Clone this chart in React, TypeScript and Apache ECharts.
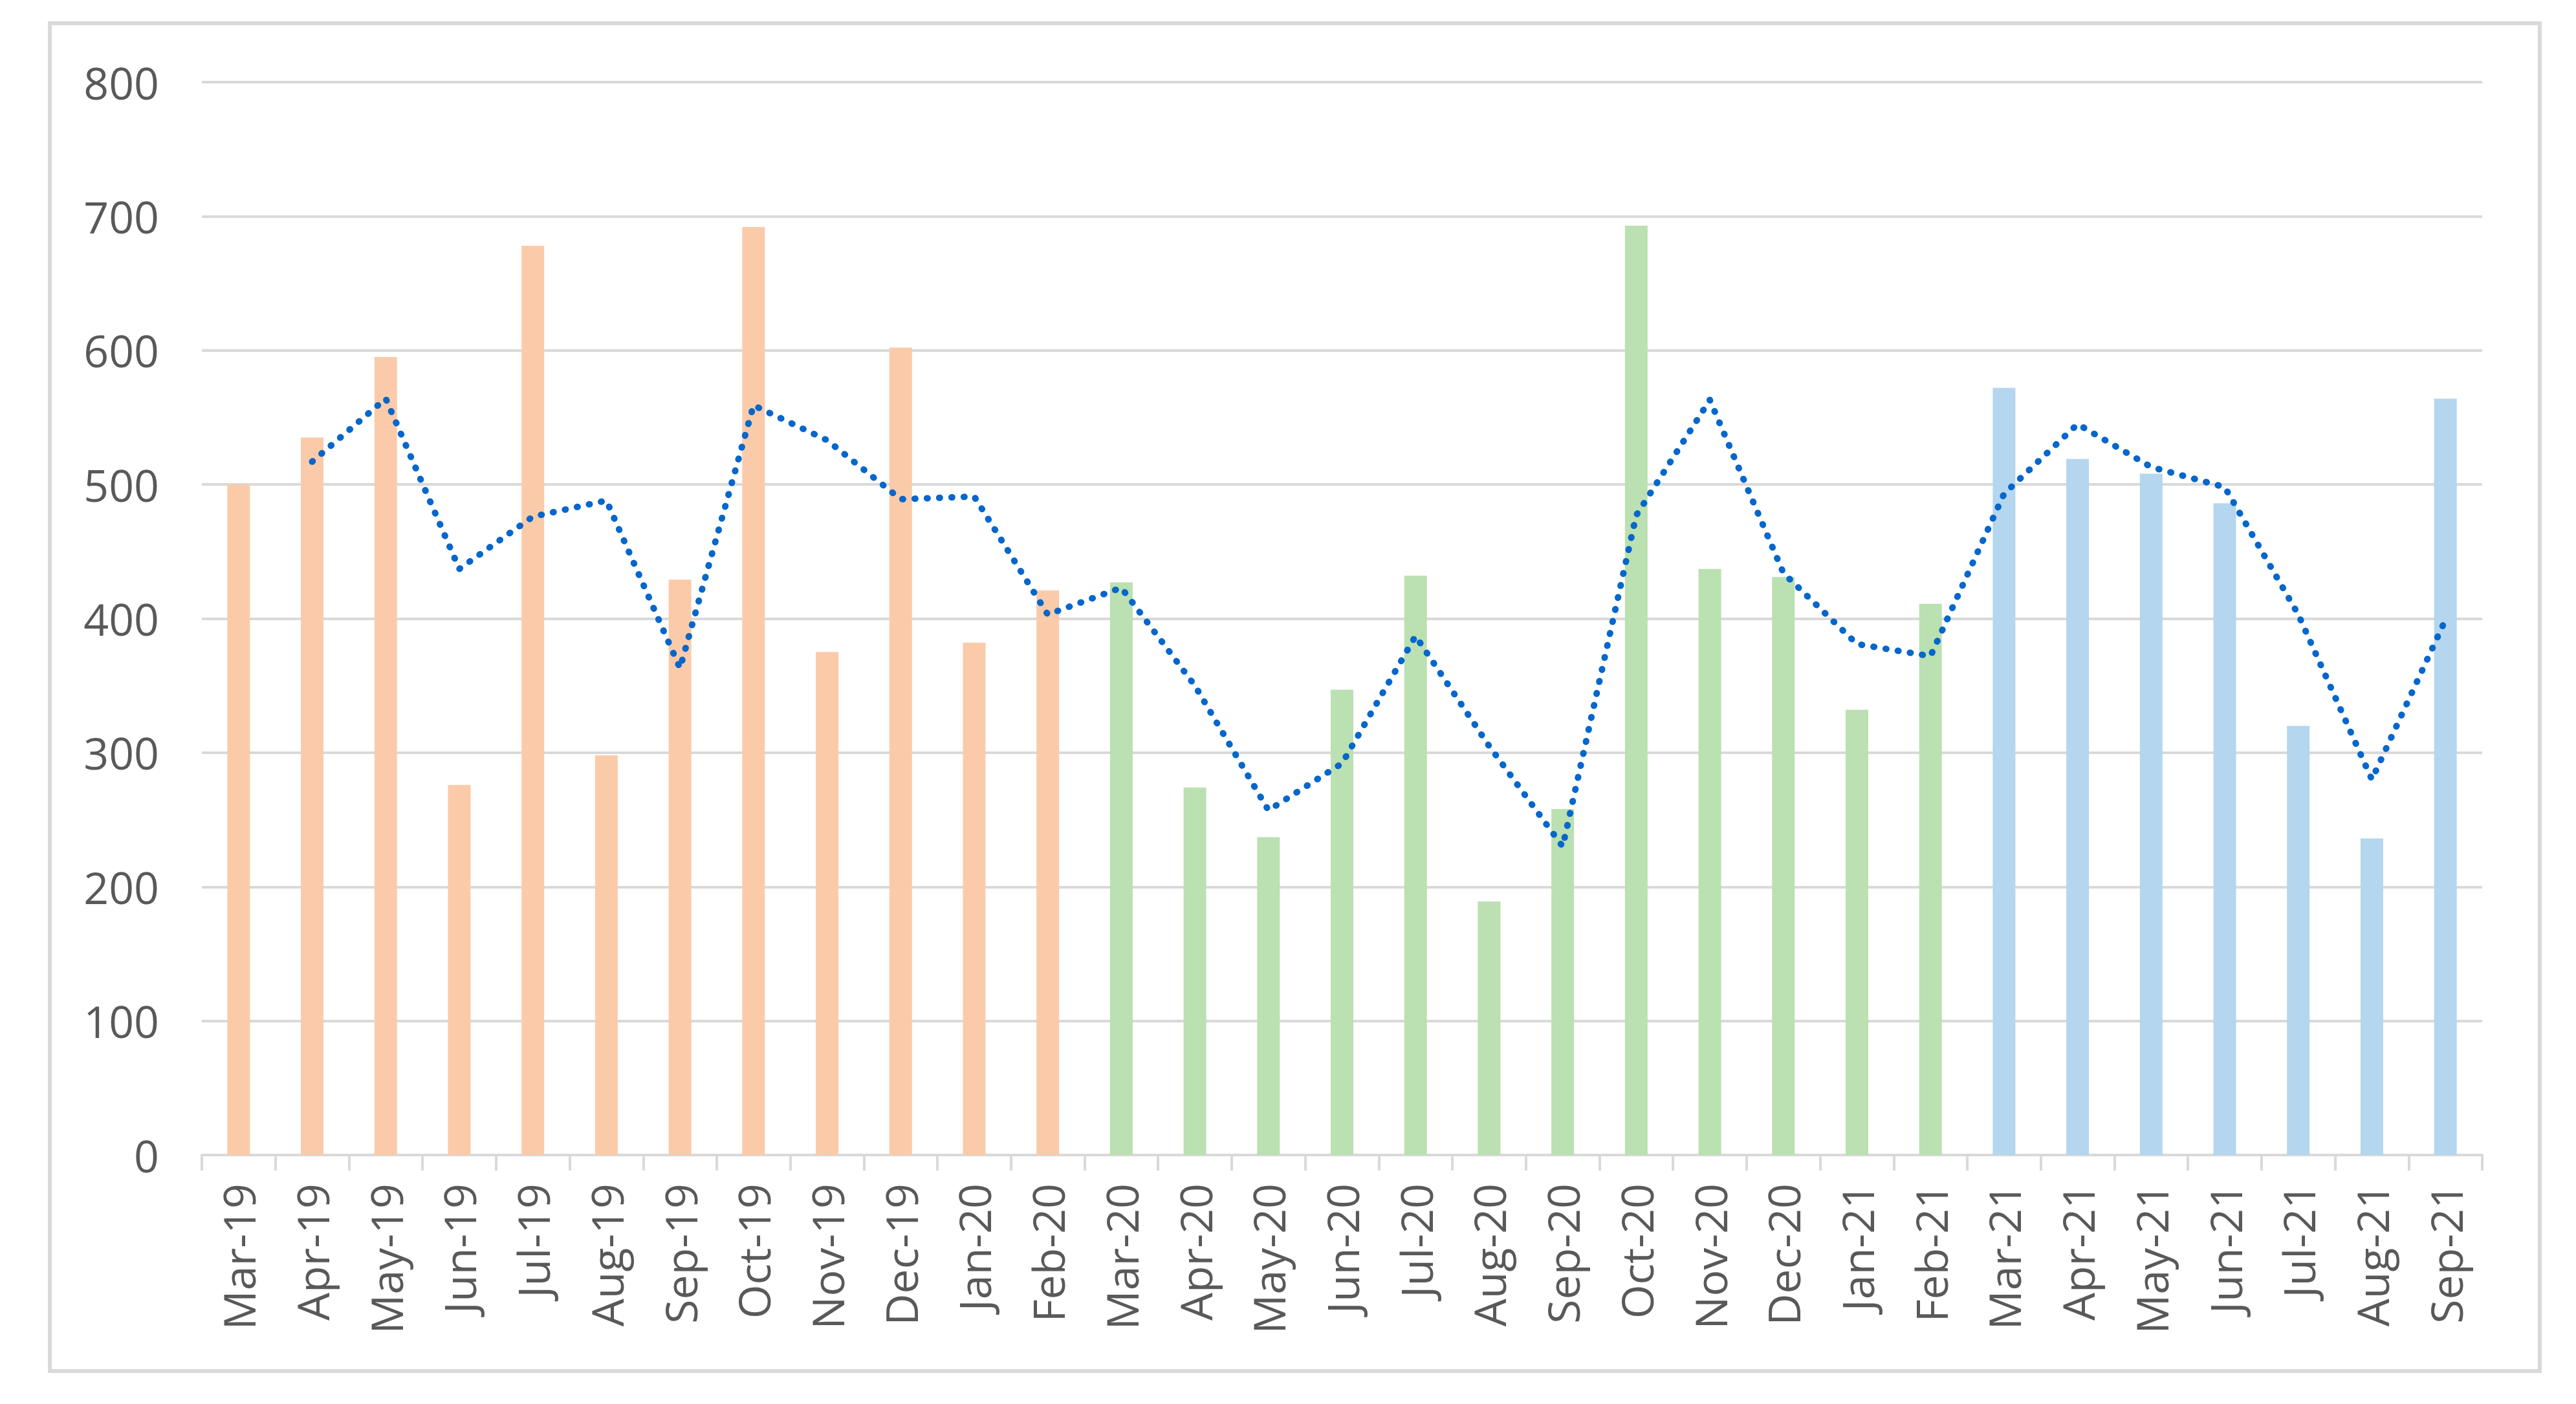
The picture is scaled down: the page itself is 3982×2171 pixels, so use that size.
import React, { useEffect, useRef } from "react";
import * as echarts from "echarts";

const months = [
  "Mar-19", "Apr-19", "May-19", "Jun-19", "Jul-19", "Aug-19", "Sep-19", "Oct-19", "Nov-19", "Dec-19", "Jan-20", "Feb-20",
  "Mar-20", "Apr-20", "May-20", "Jun-20", "Jul-20", "Aug-20", "Sep-20", "Oct-20", "Nov-20", "Dec-20", "Jan-21", "Feb-21",
  "Mar-21", "Apr-21", "May-21", "Jun-21", "Jul-21", "Aug-21", "Sep-21",
];

const monthlyValues = [
  500, 535, 595, 276, 678, 298, 429, 692, 375, 602, 382, 421,
  427, 274, 237, 347, 432, 189, 258, 693, 437, 431, 332, 411,
  572, 519, 508, 486, 320, 236, 564,
];

// period each bar belongs to (0: Mar-19..Feb-20, 1: Mar-20..Feb-21, 2: Mar-21..Sep-21)
const periodIndex = [
  0, 0, 0, 0, 0, 0, 0, 0, 0, 0, 0, 0,
  1, 1, 1, 1, 1, 1, 1, 1, 1, 1, 1, 1,
  2, 2, 2, 2, 2, 2, 2,
];

const trendValues = [
  null, 517, 564, 437, 476, 488, 363, 559, 533, 489, 491, 403,
  423, 350, 257, 292, 387, 305, 230, 477, 563, 434, 381, 372,
  493, 545, 513, 498, 403, 280, 399,
];

const yTicks = { min: 0, max: 800, interval: 100 };

const periodColors = ["#FBCBA9", "#BBE0B1", "#B4D6EE"];

export default function App() {
  const ref = useRef<HTMLDivElement>(null);

  useEffect(() => {
    document.body.style.margin = "0";
    if (!ref.current) return;
    const chart = echarts.init(ref.current, null, { renderer: "svg" });
    const font = "'Open Sans', 'Liberation Sans', sans-serif";
    chart.setOption({
      animation: false,
      backgroundColor: "#ffffff",
      textStyle: { fontFamily: font },
      graphic: [
        {
          type: "rect",
          shape: { x: 77, y: 36, width: 3849, height: 2084 },
          style: { fill: "none", stroke: "#D9D9D9", lineWidth: 6 },
          silent: true,
        },
      ],
      grid: { left: 312, right: 145, top: 127, bottom: 385, containLabel: false },
      xAxis: {
        type: "category",
        data: months,
        boundaryGap: true,
        axisLine: { show: true, lineStyle: { color: "#D9D9D9", width: 4 } },
        axisTick: { show: true, length: 24, lineStyle: { color: "#D9D9D9", width: 4 } },
        axisLabel: {
          rotate: 90,
          margin: 44,
          color: "#595959",
          fontSize: 68,
          fontFamily: font,
          interval: 0,
        },
        splitLine: { show: false },
      },
      yAxis: {
        type: "value",
        min: yTicks.min,
        max: yTicks.max,
        interval: yTicks.interval,
        axisLine: { show: false },
        axisTick: { show: false },
        axisLabel: { margin: 66, color: "#595959", fontSize: 68, fontFamily: font },
        splitLine: { show: true, lineStyle: { color: "#D9D9D9", width: 4 } },
      },
      series: [
        {
          type: "bar",
          barWidth: 35,
          data: monthlyValues.map((v, i) => ({
            value: v,
            itemStyle: { color: periodColors[periodIndex[i]] },
          })),
        },
        {
          type: "line",
          data: trendValues,
          symbol: "none",
          smooth: false,
          lineStyle: { color: "#0566CC", width: 10, type: [1, 18], cap: "round", join: "round" },
          z: 5,
        },
      ],
    });
    return () => chart.dispose();
  }, []);

  return <div ref={ref} style={{ width: 3982, height: 2171 }} />;
}
